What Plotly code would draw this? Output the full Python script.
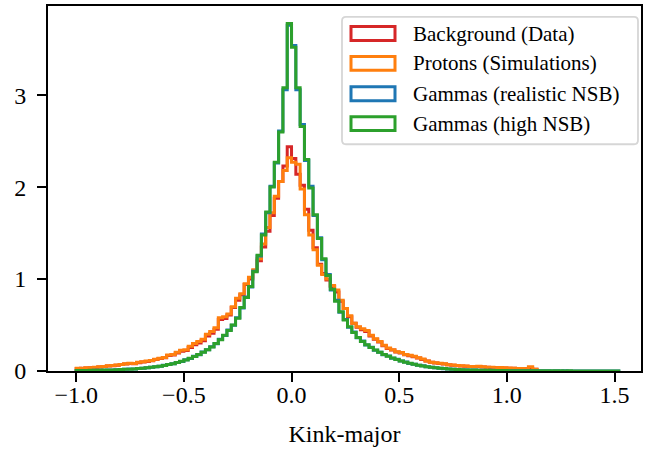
import plotly.graph_objects as go

# Histogram binning: equal-width bins starting at -1.0
BIN_START = -1.0
BIN_WIDTH = 0.02

# Normalised bin heights (density), one value per bin
background_data = [
    0.028, 0.030, 0.032, 0.034, 0.038, 0.043, 0.048, 0.055, 0.058, 0.063,
    0.070, 0.075, 0.082, 0.080, 0.090, 0.097, 0.104, 0.112, 0.124, 0.135,
    0.145, 0.168, 0.175, 0.195, 0.215, 0.222, 0.255, 0.285, 0.305, 0.330,
    0.380, 0.410, 0.455, 0.560, 0.570, 0.610, 0.690, 0.770, 0.830, 0.940,
    1.000, 1.090, 1.200, 1.350, 1.520, 1.690, 1.880, 2.060, 2.230, 2.440,
    2.310, 2.140, 2.020, 1.760, 1.530, 1.340, 1.160, 1.060, 0.990, 0.920,
    0.860, 0.760, 0.680, 0.590, 0.520, 0.475, 0.450, 0.430, 0.380, 0.345,
    0.315, 0.275, 0.245, 0.228, 0.208, 0.196, 0.178, 0.166, 0.156, 0.142,
    0.126, 0.108, 0.094, 0.088, 0.081, 0.076, 0.067, 0.063, 0.058, 0.055,
    0.053, 0.049, 0.047, 0.050, 0.044, 0.041, 0.039, 0.035, 0.036, 0.033,
    0.031, 0.029, 0.027, 0.025, 0.024, 0.030, 0.018,
]

protons_sim = [
    0.030, 0.028, 0.034, 0.036, 0.040, 0.045, 0.050, 0.058, 0.060, 0.066,
    0.072, 0.078, 0.085, 0.082, 0.094, 0.100, 0.108, 0.115, 0.128, 0.140,
    0.148, 0.175, 0.180, 0.205, 0.225, 0.230, 0.270, 0.300, 0.320, 0.345,
    0.400, 0.430, 0.470, 0.580, 0.590, 0.620, 0.700, 0.790, 0.840, 0.950,
    1.020, 1.100, 1.220, 1.380, 1.560, 1.720, 1.900, 2.060, 2.180, 2.320,
    2.270, 2.250, 1.980, 1.700, 1.480, 1.320, 1.150, 1.050, 1.000, 0.930,
    0.880, 0.770, 0.680, 0.600, 0.520, 0.480, 0.460, 0.440, 0.390, 0.350,
    0.320, 0.280, 0.250, 0.230, 0.210, 0.200, 0.180, 0.170, 0.160, 0.145,
    0.130, 0.110, 0.095, 0.090, 0.083, 0.078, 0.068, 0.065, 0.060, 0.056,
    0.055, 0.050, 0.048, 0.052, 0.046, 0.042, 0.040, 0.036, 0.038, 0.034,
    0.032, 0.030, 0.028, 0.026, 0.025, 0.047, 0.020,
]

gammas_realistic = [
    0.005, 0.005, 0.006, 0.006, 0.007, 0.008, 0.009, 0.011, 0.012, 0.013,
    0.015, 0.018, 0.021, 0.022, 0.027, 0.031, 0.034, 0.041, 0.047, 0.052,
    0.062, 0.071, 0.079, 0.093, 0.104, 0.122, 0.136, 0.160, 0.178, 0.208,
    0.230, 0.265, 0.296, 0.344, 0.385, 0.445, 0.497, 0.580, 0.684, 0.806,
    0.914, 1.086, 1.252, 1.490, 1.722, 2.010, 2.262, 2.610, 3.060, 3.760,
    3.540, 3.060, 2.680, 2.290, 2.010, 1.690, 1.450, 1.210, 1.050, 0.880,
    0.770, 0.640, 0.560, 0.476, 0.424, 0.362, 0.325, 0.283, 0.258, 0.226,
    0.205, 0.178, 0.162, 0.140, 0.128, 0.108, 0.097, 0.082, 0.074, 0.062,
    0.056, 0.046, 0.042, 0.034, 0.031, 0.025, 0.023, 0.018, 0.017, 0.013,
    0.013, 0.010, 0.010, 0.008, 0.008, 0.006, 0.007, 0.005, 0.005, 0.004,
    0.004, 0.004, 0.003, 0.004, 0.003, 0.002, 0.003, 0.002, 0.002, 0.002,
    0.001, 0.002, 0.001, 0.002, 0.001, 0.001, 0.001, 0.001, 0.001, 0.001,
    0.001, 0.001, 0.001, 0.001, 0.001, 0.001,
]

gammas_high_nsb = [
    0.005, 0.006, 0.005, 0.007, 0.008, 0.008, 0.010, 0.011, 0.012, 0.014,
    0.016, 0.018, 0.020, 0.023, 0.026, 0.030, 0.035, 0.040, 0.046, 0.053,
    0.061, 0.070, 0.080, 0.092, 0.105, 0.120, 0.138, 0.158, 0.180, 0.205,
    0.232, 0.262, 0.298, 0.340, 0.388, 0.440, 0.500, 0.575, 0.690, 0.800,
    0.920, 1.080, 1.260, 1.480, 1.730, 2.000, 2.270, 2.600, 3.080, 3.780,
    3.520, 3.080, 2.660, 2.300, 1.990, 1.700, 1.440, 1.220, 1.040, 0.890,
    0.760, 0.645, 0.555, 0.480, 0.420, 0.365, 0.322, 0.286, 0.255, 0.228,
    0.203, 0.180, 0.160, 0.142, 0.126, 0.110, 0.096, 0.084, 0.073, 0.063,
    0.055, 0.047, 0.041, 0.035, 0.030, 0.026, 0.022, 0.019, 0.016, 0.014,
    0.012, 0.011, 0.010, 0.009, 0.008, 0.007, 0.006, 0.006, 0.005, 0.005,
    0.004, 0.004, 0.004, 0.003, 0.003, 0.003, 0.003, 0.002, 0.002, 0.002,
    0.002, 0.002, 0.002, 0.001, 0.002, 0.001, 0.001, 0.001, 0.001, 0.001,
    0.001, 0.001, 0.001, 0.001, 0.001, 0.001,
]

series_names = [
    "Background (Data)",
    "Protons (Simulations)",
    "Gammas (realistic NSB)",
    "Gammas (high NSB)",
]
series_values = [background_data, protons_sim, gammas_realistic, gammas_high_nsb]
series_colors = ["#d62728", "#ff7f0e", "#1f77b4", "#2ca02c"]

x_tick_vals = [-1.0, -0.5, 0.0, 0.5, 1.0, 1.5]
x_tick_text = ["\u22121.0", "\u22120.5", "0.0", "0.5", "1.0", "1.5"]
y_tick_vals = [0, 1, 2, 3]
y_tick_text = ["0", "1", "2", "3"]

FONT = "Liberation Serif"
FS_TICK = 24
FS_LEGEND = 21
LW = 3.0

fig = go.Figure()


def step_outline(values):
    """Outline of a step histogram: rise from zero, follow bins, drop to zero."""
    edges = [BIN_START + BIN_WIDTH * k for k in range(len(values) + 1)]
    xs = [edges[0]] + edges[:-1] + [edges[-1]]
    ys = [0.0] + list(values) + [0.0]
    return xs, ys


for name, vals, col in zip(series_names, series_values, series_colors):
    xs, ys = step_outline(vals)
    fig.add_trace(go.Scatter(
        x=xs, y=ys, mode="lines", name=name,
        line=dict(color=col, width=LW, shape="hv"),
        showlegend=False, hoverinfo="skip",
    ))

# Plot-area geometry in pixels (used to place the legend box)
W, H = 659, 455
ML, MR, MT, MB = 48, 18, 4, 84
PW, PH = W - ML - MR, H - MT - MB


def px(xp):
    return (xp - ML) / PW


def py(yp):
    return (H - MB - yp) / PH


# Legend frame with slightly rounded corners
x0, x1, y0, y1 = px(342), px(638), py(143), py(15)
rx, ry = 4 / PW, 4 / PH
frame = (
    f"M {x0 + rx},{y1} L {x1 - rx},{y1} Q {x1},{y1} {x1},{y1 - ry} "
    f"L {x1},{y0 + ry} Q {x1},{y0} {x1 - rx},{y0} "
    f"L {x0 + rx},{y0} Q {x0},{y0} {x0},{y0 + ry} "
    f"L {x0},{y1 - ry} Q {x0},{y1} {x0 + rx},{y1} Z"
)
fig.add_shape(type="path", path=frame, xref="paper", yref="paper",
              line=dict(color="#d6d6d6", width=1.8), fillcolor="rgba(255,255,255,0.8)")

row_centres = [31.7, 61.7, 92.3, 122.3]
for name, col, yc in zip(series_names, series_colors, row_centres):
    fig.add_shape(type="rect", xref="paper", yref="paper",
                  x0=px(351), x1=px(395), y0=py(yc + 7), y1=py(yc - 7),
                  line=dict(color=col, width=LW), fillcolor="rgba(0,0,0,0)")
    fig.add_annotation(x=px(411), y=py(yc), xref="paper", yref="paper",
                       text=name, showarrow=False, xanchor="left", yanchor="middle",
                       font=dict(family=FONT, size=FS_LEGEND, color="black"))

axis_common = dict(
    showline=True, linecolor="black", linewidth=1.9, mirror=True,
    ticks="outside", ticklen=9, tickwidth=1.9, tickcolor="black",
    showgrid=False, zeroline=False,
    tickfont=dict(family=FONT, size=FS_TICK, color="black"),
)

fig.update_xaxes(range=[-1.131, 1.623], tickmode="array",
                 tickvals=x_tick_vals, ticktext=x_tick_text,
                 ticklabelstandoff=-8,
                 title=dict(text="Kink-major", font=dict(family=FONT, size=FS_TICK, color="black"),
                            standoff=18),
                 **axis_common)
fig.update_yaxes(range=[0, 3.97], tickmode="array",
                 tickvals=y_tick_vals, ticktext=y_tick_text,
                 ticklabelstandoff=6, **axis_common)

fig.update_layout(
    width=W, height=H,
    margin=dict(l=ML, r=MR, t=MT, b=MB),
    paper_bgcolor="white", plot_bgcolor="white",
    font=dict(family=FONT, size=FS_TICK, color="black"),
    showlegend=False,
)

fig.write_html("out.html")
